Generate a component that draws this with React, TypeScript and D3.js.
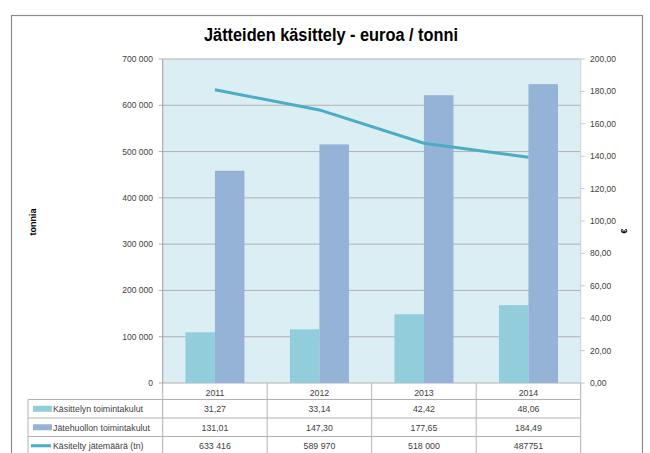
import * as d3 from 'd3';
import React from 'react';

const years = ['2011', '2012', '2013', '2014'];
const seriesNames = ['Käsittelyn toimintakulut', 'Jätehuollon toimintakulut', 'Käsitelty jätemäärä (tn)'];
const kasittely = [31.27, 33.14, 42.42, 48.06];
const jatehuolto = [131.01, 147.3, 177.65, 184.49];
const jatemaara = [633416, 589970, 518000, 487751];
const jatemaaraLabels = ['633 416', '589 970', '518 000', '487751'];
const leftTicks = [0, 100000, 200000, 300000, 400000, 500000, 600000, 700000];
const rightTicks = [0, 20, 40, 60, 80, 100, 120, 140, 160, 180, 200];

const W = 650;
const H = 453;
const font = "'Liberation Sans', Arial, sans-serif";
const colors = { light: '#92cddc', dark: '#95b3d7', line: '#4bacc6' };

const fi = d3.formatLocale({ decimal: ',', thousands: '\u00a0', grouping: [3], currency: ['', '€'] });
const fmtLeft = fi.format(',.0f');
const fmtRight = fi.format(',.2f');

export default function App() {
  const margin = { left: 162.7, right: 580.7, top: 59, bottom: 383 };

  const x = d3.scaleBand().domain(years).range([margin.left, margin.right]);
  const x1 = d3.scaleBand().domain(['a', 'b']).range([0, x.bandwidth()]).paddingInner(0).paddingOuter(0.77);
  const yL = d3.scaleLinear().domain([0, 700000]).range([margin.bottom, margin.top]);
  const yR = d3.scaleLinear().domain([0, 200]).range([margin.bottom, margin.top]);

  const line = d3.line<number>()
    .x((d, i) => (x(years[i]) as number) + x.bandwidth() / 2)
    .y((d) => yL(d));

  const rowH = 18.5;
  const tableTop = margin.bottom;
  const rows = [
    { name: seriesNames[0], vals: kasittely.map(fmtRight), key: 'light' },
    { name: seriesNames[1], vals: jatehuolto.map(fmtRight), key: 'dark' },
    { name: seriesNames[2], vals: jatemaaraLabels, key: 'line' },
  ];
  const tableLeft = 28;
  const gridCol = '#b2b2b2';
  const textCol = '#404040';

  return (
    <svg width={W} height={H} style={{ position: 'absolute', left: 0, top: 0, fontFamily: font }}>
      <rect x={0} y={0} width={W} height={H} fill="#fff" />
      <rect x={11.5} y={15.5} width={631} height={460} fill="none" stroke="#8c8c8c" strokeWidth={1.2} />
      <text x={331} y={41} textAnchor="middle" fontSize={18} fontWeight="bold" fill="#000"
        textLength={254} lengthAdjust="spacingAndGlyphs">
        Jätteiden käsittely - euroa / tonni
      </text>

      {/* plot area */}
      <rect x={margin.left} y={margin.top} width={margin.right - margin.left} height={margin.bottom - margin.top} fill="#dbeef4" />
      {leftTicks.map((t) => (
        <g key={t}>
          <line x1={margin.left - 4} x2={margin.right} y1={yL(t)} y2={yL(t)} stroke={gridCol} strokeWidth={1} />
          <text x={153} y={yL(t) + 3} textAnchor="end" fontSize={8.5} fill={textCol}>{fmtLeft(t)}</text>
        </g>
      ))}
      {rightTicks.map((t) => (
        <g key={t}>
          <line x1={margin.right} x2={margin.right + 4} y1={yR(t)} y2={yR(t)} stroke="#c8c8c8" />
          <text x={590} y={yR(t) + 3} fontSize={8.5} fill={textCol}>{fmtRight(t)}</text>
        </g>
      ))}
      <line x1={margin.right} x2={margin.right} y1={margin.top} y2={margin.bottom} stroke="#d0d0d0" />

      {years.map((yr, i) => (
        <g key={yr} transform={`translate(${x(yr)},0)`}>
          <rect x={x1('a')} y={yR(kasittely[i])} width={x1.bandwidth()} height={yR(0) - yR(kasittely[i])} fill={colors.light} />
          <rect x={x1('b')} y={yR(jatehuolto[i])} width={x1.bandwidth()} height={yR(0) - yR(jatehuolto[i])} fill={colors.dark} />
        </g>
      ))}
      <path d={line(jatemaara) || ''} fill="none" stroke={colors.line} strokeWidth={3} />
      <line x1={margin.left} x2={margin.left} y1={margin.top} y2={margin.bottom} stroke="#a0a0a0" />

      <text transform={`translate(36,222) rotate(-90)`} textAnchor="middle" fontSize={9} fontWeight="bold" fill="#000">tonnia</text>
      <text transform={`translate(627,231) rotate(-90)`} textAnchor="middle" fontSize={9} fontWeight="bold" fill="#000">€</text>

      {/* data table */}
      <g fontSize={8.8} fill={textCol}>
        <line x1={margin.left} x2={margin.left} y1={tableTop} y2={H} stroke={gridCol} />
        {years.map((yr) => (
          <g key={yr}>
            <line x1={(x(yr) as number) + x.bandwidth()} x2={(x(yr) as number) + x.bandwidth()} y1={tableTop} y2={H} stroke={gridCol} />
            <text x={(x(yr) as number) + x.bandwidth() / 2} y={tableTop + 12.5} textAnchor="middle">{yr}</text>
          </g>
        ))}
        {rows.map((r, ri) => {
          const top = tableTop + rowH * (ri + 1) - 2;
          return (
            <g key={r.name}>
              <line x1={tableLeft} x2={margin.right} y1={top} y2={top} stroke={gridCol} />
              {r.key === 'line' ? (
                <line x1={tableLeft + 3} x2={tableLeft + 23} y1={top + rowH / 2} y2={top + rowH / 2} stroke={colors.line} strokeWidth={3} />
              ) : (
                <rect x={tableLeft + 5} y={top + rowH / 2 - 3} width={19} height={6} fill={(colors as any)[r.key]} />
              )}
              <text x={tableLeft + 25} y={top + 12.5}>{r.name}</text>
              {r.vals.map((v, i) => (
                <text key={i} x={(x(years[i]) as number) + x.bandwidth() / 2} y={top + 12.5} textAnchor="middle">{v}</text>
              ))}
            </g>
          );
        })}
        <line x1={tableLeft} x2={tableLeft} y1={tableTop + rowH - 2} y2={H} stroke={gridCol} />
      </g>
    </svg>
  );
}
